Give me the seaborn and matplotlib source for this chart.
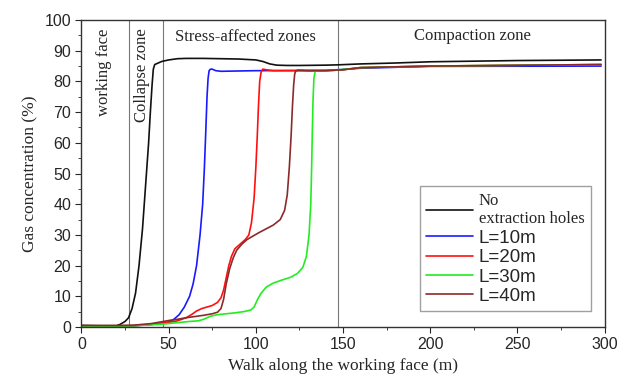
import pandas as pd
import seaborn as sns
import matplotlib.pyplot as plt
from matplotlib.ticker import MultipleLocator

# curves (x in m, y in %)
no_x = [0, 10, 20, 22, 25, 27, 29, 31, 33, 35, 37, 38.5, 39.5, 40.5, 41.2, 42, 44, 46, 50, 55, 60, 70, 80, 90, 100, 104, 108, 112, 118, 125, 140, 147, 160, 180, 200, 250, 298]
no_y = [0.5, 0.4, 0.4, 0.8, 1.8, 3, 6, 11, 20, 32, 48, 60, 70, 79, 84, 85.5, 86, 86.5, 87, 87.4, 87.5, 87.5, 87.4, 87.3, 87, 86.5, 85.7, 85.3, 85.2, 85.2, 85.3, 85.4, 85.7, 86, 86.4, 86.8, 87]

l10_x = [0, 20, 30, 40, 45, 50, 53, 56, 59, 62, 64, 66, 68, 69.5, 70.5, 71.3, 72, 72.6, 73.2, 74, 75, 77, 80, 100, 140, 150, 160, 200, 298]
l10_y = [0.3, 0.3, 0.4, 0.8, 1.1, 1.6, 2.5, 4, 6.5, 10, 14, 20, 30, 40, 52, 64, 75, 81, 83.5, 84, 84, 83.5, 83.3, 83.5, 83.6, 83.9, 84.3, 84.9, 85]

l20_x = [0, 20, 30, 40, 45, 50, 55, 60, 63, 66, 69, 72, 75, 78, 80, 81.5, 83, 84.5, 86, 88, 91, 94, 96, 97.5, 99, 100, 100.8, 101.5, 102.2, 103, 104, 106, 110, 140, 150, 160, 200, 298]
l20_y = [0.3, 0.3, 0.4, 0.9, 1.2, 1.5, 2, 3, 4, 5.2, 6, 6.5, 7, 8, 9.5, 12, 16, 20, 23, 25.5, 27, 28.5, 30, 34, 42, 52, 62, 72, 80, 83, 84, 83.8, 83.5, 83.5, 83.8, 84.5, 85, 85.5]

l30_x = [0, 20, 30, 40, 48, 55, 62, 67, 70, 74, 78, 83, 88, 93, 97, 99, 101, 103, 106, 110, 115, 120, 124, 127, 129, 130.5, 131.5, 132, 132.4, 132.8, 133.3, 134, 135.5, 140, 145, 150, 160, 200, 298]
l30_y = [0.3, 0.3, 0.4, 0.7, 1, 1.4, 1.8, 2, 2.5, 3.5, 4, 4.3, 4.6, 5, 5.5, 6.5, 9, 11, 13, 14.3, 15.3, 16.2, 17.5, 19.5, 23, 30, 40, 52, 64, 74, 81, 83.3, 83.6, 83.5, 83.6, 83.9, 84.5, 85, 85.5]

l40_x = [0, 20, 30, 40, 45, 50, 55, 60, 65, 70, 75, 78, 80, 81.5, 83, 85, 87, 89, 92, 95, 98, 102, 106, 110, 114, 116.5, 118, 119.2, 120.2, 121, 121.7, 122.3, 123, 124.5, 130, 140, 150, 160, 200, 298]
l40_y = [0.5, 0.5, 0.6, 1.1, 1.6, 2.1, 2.5, 3, 3.4, 3.8, 4.3, 4.8, 6, 9, 14, 19, 22.5, 25, 27, 28.5, 29.5, 30.8, 32, 33.2, 35, 38, 43, 52, 62, 72, 79, 82.5, 83.5, 83.7, 83.5, 83.5, 83.8, 84.5, 85, 85.5]

names = ['No\nextraction holes', 'L=10m', 'L=20m', 'L=30m', 'L=40m']
colors = ['#111111', '#1a1aff', '#ff1010', '#20ee20', '#8b2a2a']
zone_edges = [27, 47, 147]

frames = []
for name, xs, ys in zip(names, [no_x, l10_x, l20_x, l30_x, l40_x], [no_y, l10_y, l20_y, l30_y, l40_y]):
    frames.append(pd.DataFrame({'x': xs, 'y': ys, 'case': name}))
df = pd.concat(frames, ignore_index=True)

sns.set_style('ticks')
plt.rcParams['font.family'] = ['Liberation Sans', 'DejaVu Sans']
serif = 'Liberation Serif'

fig, ax = plt.subplots(figsize=(6.22, 3.78), dpi=100)
fig.subplots_adjust(left=0.131, right=0.972, top=0.947, bottom=0.135)

sns.lineplot(data=df, x='x', y='y', hue='case', palette=dict(zip(names, colors)),
             estimator=None, sort=False, linewidth=1.2, ax=ax)

for xe in zone_edges:
    ax.axvline(xe, color='#777777', linewidth=0.8, zorder=0)

ax.text(13, 83, 'working face', rotation=90, ha='center', va='center', family=serif, fontsize=12)
ax.text(34.5, 82, 'Collapse zone', rotation=90, ha='center', va='center', family=serif, fontsize=12)
ax.text(94, 94.5, 'Stress-affected zones', ha='center', va='center', family=serif, fontsize=12)
ax.text(224, 94.8, 'Compaction zone', ha='center', va='center', family=serif, fontsize=12)

ax.set_xlim(0, 300)
ax.set_ylim(0, 100)
ax.xaxis.set_major_locator(MultipleLocator(50))
ax.xaxis.set_minor_locator(MultipleLocator(25))
ax.yaxis.set_major_locator(MultipleLocator(10))
ax.yaxis.set_minor_locator(MultipleLocator(5))
ax.tick_params(labelsize=11.5, length=4)
ax.tick_params(which='minor', length=2.5)
for sp in ax.spines.values():
    sp.set_linewidth(1.0)
    sp.set_color('#333333')

ax.set_xlabel('Walk along the working face (m)', family=serif, fontsize=12.5)
ax.set_ylabel('Gas concentration (%)', family=serif, fontsize=12.5)

leg = ax.legend(loc='lower right', bbox_to_anchor=(0.992, 0.02), frameon=True, fancybox=False,
                edgecolor='#888888', handlelength=2.5, handletextpad=0.3, labelspacing=0.12,
                borderpad=0.35, fontsize=13.5)
leg.get_frame().set_linewidth(1.0)
txts = leg.get_texts()
txts[0].set_family(serif)
txts[0].set_fontsize(12)

fig.savefig('out.png', dpi=100)
